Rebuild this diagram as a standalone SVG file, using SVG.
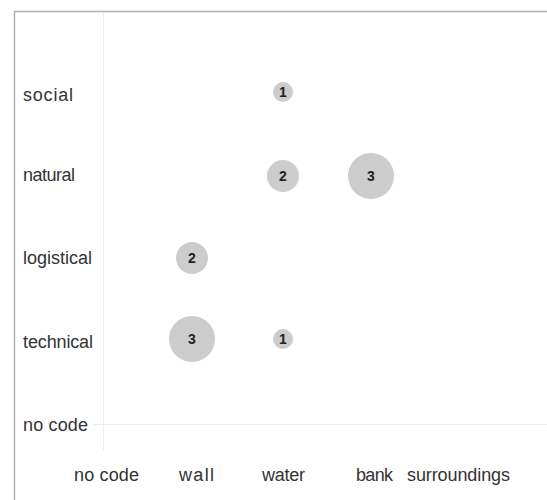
<svg xmlns="http://www.w3.org/2000/svg" width="547" height="500" viewBox="0 0 547 500">
<style>
.lbl{font-family:"Liberation Sans",Arial,sans-serif;font-size:18px;fill:#333;}
.b{fill:#cccccc;}
.n{font-family:"Liberation Sans",Arial,sans-serif;font-size:14px;font-weight:bold;fill:#222;text-anchor:middle;}
.g{stroke:#ececec;stroke-width:1;fill:none;}
</style>
<rect x="0" y="0" width="547" height="500" fill="#fff"/>
<g id="frame">
<path d="M14.5,500 V11.5 H547" fill="none" stroke="#b0b0b0" stroke-width="1.5"/>
</g>
<g id="connectors">
<line class="g" x1="103.5" y1="12" x2="103.5" y2="450"/>
<line class="g" x1="94" y1="424.5" x2="547" y2="424.5"/>
</g>
<g id="ylabels">
<text class="lbl" x="23" y="101" textLength="50">social</text>
<text class="lbl" x="23" y="181" textLength="52">natural</text>
<text class="lbl" x="23" y="264" textLength="69">logistical</text>
<text class="lbl" x="23" y="348" textLength="70">technical</text>
<text class="lbl" x="23" y="431" textLength="65">no code</text>
</g>
<g id="xlabels">
<text class="lbl" x="74" y="481" textLength="65">no code</text>
<text class="lbl" x="179" y="481" textLength="35">wall</text>
<text class="lbl" x="262" y="481" textLength="43">water</text>
<text class="lbl" x="356" y="481" textLength="37">bank</text>
<text class="lbl" x="407" y="481" textLength="103">surroundings</text>
</g>
<g id="b1"><circle class="b" cx="283" cy="92" r="10"/><text class="n" x="283" y="97">1</text></g>
<g id="b2"><circle class="b" cx="283" cy="176" r="16"/><text class="n" x="283" y="181">2</text></g>
<g id="b3"><circle class="b" cx="371" cy="176" r="23"/><text class="n" x="371" y="181">3</text></g>
<g id="b4"><circle class="b" cx="192" cy="258" r="16"/><text class="n" x="192" y="263">2</text></g>
<g id="b5"><circle class="b" cx="192" cy="339" r="23"/><text class="n" x="192" y="344">3</text></g>
<g id="b6"><circle class="b" cx="283" cy="339" r="10"/><text class="n" x="283" y="344">1</text></g>
</svg>
